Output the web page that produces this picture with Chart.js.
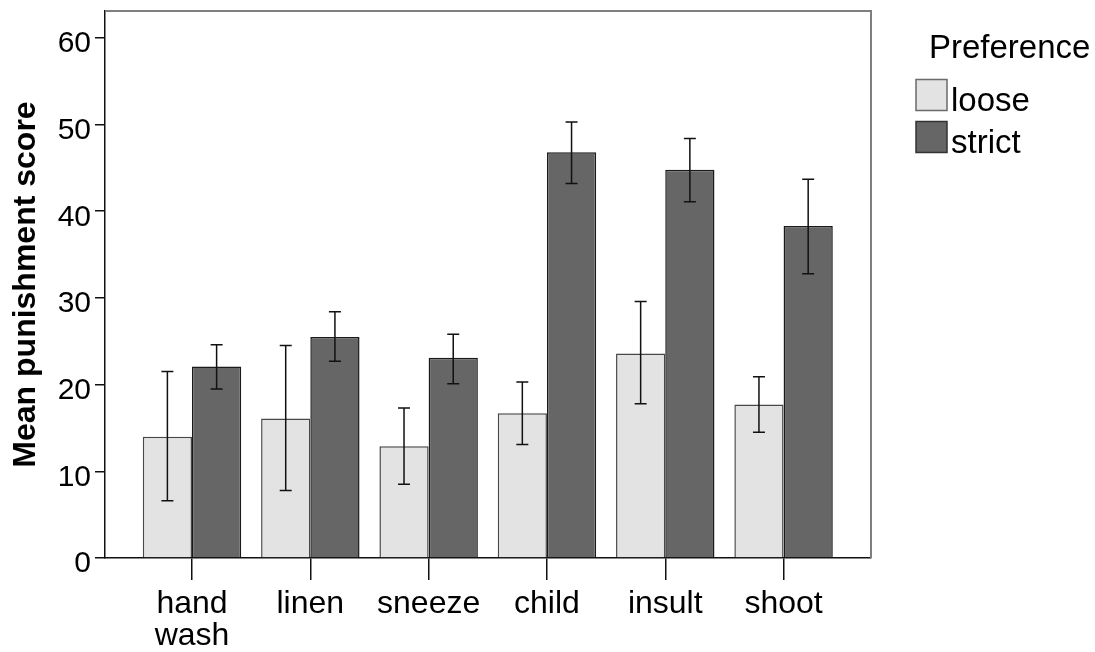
<!DOCTYPE html>
<html>
<head>
<meta charset="utf-8">
<title>Mean punishment score by preference</title>
<script src="https://cdn.jsdelivr.net/npm/chart.js@4.4.1/dist/chart.umd.min.js"></script>
<style>
  html, body { margin: 0; padding: 0; background: #ffffff; }
  #wrap { width: 1095px; height: 652px; }
</style>
</head>
<body>
<div id="wrap"><canvas id="punishChart" width="1095" height="652"></canvas></div>
<script>
// Categories and values
const categories = [['hand', 'wash'], 'linen', 'sneeze', 'child', 'insult', 'shoot'];
const seriesNames = ['loose', 'strict'];

const looseMean = [14.0, 16.1, 12.9, 16.7, 23.6, 17.7];
const looseHigh = [21.5, 24.5, 17.3, 20.3, 29.6, 20.9];
const looseLow  = [6.6, 7.8, 8.5, 13.1, 17.8, 14.5];

const strictMean = [22.1, 25.5, 23.1, 46.8, 44.8, 38.3];
const strictHigh = [24.6, 28.4, 25.8, 50.3, 48.4, 43.7];
const strictLow  = [19.5, 22.7, 20.1, 43.2, 41.1, 32.8];

const yTicks = [0, 10, 20, 30, 40, 50, 60];

// category positions on a linear axis (1..6)
const toPoints = (arr) => arr.map((v, i) => ({ x: i + 1, y: v }));

// Error bars drawn from the low/high arrays through the y scale
const errorBars = {
    id: 'errorBars',
    afterDatasetsDraw(chart) {
        const ctx = chart.ctx;
        const yScale = chart.scales.y;
        chart.data.datasets.forEach((ds, di) => {
            const meta = chart.getDatasetMeta(di);
            meta.data.forEach((bar, i) => {
                const top = yScale.getPixelForValue(ds.errHigh[i]);
                const bot = yScale.getPixelForValue(ds.errLow[i]);
                ctx.save();
                ctx.strokeStyle = '#111111';
                ctx.lineWidth = 1.5;
                ctx.beginPath();
                ctx.moveTo(bar.x, top);
                ctx.lineTo(bar.x, bot);
                ctx.moveTo(bar.x - 6, top);
                ctx.lineTo(bar.x + 6, top);
                ctx.moveTo(bar.x - 6, bot);
                ctx.lineTo(bar.x + 6, bot);
                ctx.stroke();
                ctx.restore();
            });
        });
    }
};

// grey frame on top and right of the plot
const plotFrame = {
    id: 'plotFrame',
    afterDraw(chart) {
        const { ctx, chartArea: a } = chart;
        ctx.save();
        ctx.strokeStyle = '#7f7f7f';
        ctx.lineWidth = 2;
        ctx.beginPath();
        ctx.moveTo(a.left, a.top);
        ctx.lineTo(a.right, a.top);
        ctx.lineTo(a.right, a.bottom);
        ctx.stroke();
        ctx.restore();
    }
};

// legend in the SPSS style: title, then small boxes close to the text
const sideLegend = {
    id: 'sideLegend',
    afterDraw(chart) {
        const ctx = chart.ctx;
        const x = 916, box = 31;
        ctx.save();
        ctx.fillStyle = '#000000';
        ctx.textBaseline = 'alphabetic';
        ctx.textAlign = 'left';
        ctx.font = '33px "Liberation Sans", Arial, sans-serif';
        ctx.fillText('Preference', 929, 58);
        chart.data.datasets.forEach((ds, i) => {
            const top = 79.5 + i * 42;
            ctx.fillStyle = ds.backgroundColor;
            ctx.fillRect(x, top, box, box);
            ctx.strokeStyle = i === 0 ? '#6a6a6a' : '#333333';
            ctx.lineWidth = 1.5;
            ctx.strokeRect(x, top, box, box);
            ctx.fillStyle = '#000000';
            ctx.fillText(ds.label, 951, top + 31.5);
        });
        ctx.restore();
    }
};

const ctx = document.getElementById('punishChart').getContext('2d');
const punishChart = new Chart(ctx, {
    type: 'bar',
    data: {
        datasets: [
            {
                label: seriesNames[0],
                data: toPoints(looseMean),
                errHigh: looseHigh,
                errLow: looseLow,
                backgroundColor: '#e3e3e3',
                borderColor: '#484848',
                borderWidth: 1.5,
                categoryPercentage: 0.832,
                barPercentage: 1
            },
            {
                label: seriesNames[1],
                data: toPoints(strictMean),
                errHigh: strictHigh,
                errLow: strictLow,
                backgroundColor: '#666666',
                borderColor: '#1a1a1a',
                borderWidth: 1.5,
                categoryPercentage: 0.832,
                barPercentage: 1
            }
        ]
    },
    options: {
        responsive: false,
        animation: false,
        layout: { padding: { top: 11, left: 0, right: 224, bottom: 0 } },
        plugins: {
            legend: { display: false },
            tooltip: { enabled: false }
        },
        scales: {
            x: {
                type: 'linear',
                offset: false,
                min: 0.2646,
                max: 6.739,
                afterBuildTicks: (axis) => {
                    axis.ticks = categories.map((c, i) => ({ value: i + 1 }));
                },
                afterFit: (axis) => {
                    axis.height = 94;
                    axis.paddingLeft = 0;
                    axis.paddingRight = 0;
                },
                ticks: {
                    autoSkip: false,
                    maxRotation: 0,
                    padding: 8,
                    color: '#000000',
                    font: { family: '"Liberation Sans", Arial, sans-serif', size: 32, lineHeight: 1 },
                    callback: (v) => categories[v - 1]
                },
                grid: {
                    offset: false,
                    drawOnChartArea: false,
                    tickLength: 22,
                    color: '#111111',
                    lineWidth: 1.5
                },
                border: { display: true, color: '#111111', width: 1.5 }
            },
            y: {
                min: 0,
                max: 63.1,
                afterBuildTicks: (axis) => {
                    axis.ticks = yTicks.map((v) => ({ value: v }));
                },
                afterFit: (axis) => {
                    axis.width = 105;
                    axis.paddingTop = 0;
                    axis.paddingBottom = 0;
                },
                ticks: {
                    padding: 4,
                    color: '#000000',
                    // blank first line nudges each number a little below its tick, as in the original
                    callback: (v) => ['', String(v)],
                    font: { family: '"Liberation Sans", Arial, sans-serif', size: 30, lineHeight: '12px' }
                },
                grid: {
                    drawOnChartArea: false,
                    tickLength: 10,
                    color: '#111111',
                    lineWidth: 1.5
                },
                border: { display: true, color: '#111111', width: 1.5 },
                title: {
                    display: true,
                    text: 'Mean punishment score',
                    color: '#000000',
                    padding: { top: 9, bottom: 0 },
                    font: { family: '"Liberation Sans", Arial, sans-serif', size: 32, weight: 'bold', lineHeight: 1.1 }
                }
            }
        }
    },
    plugins: [errorBars, plotFrame, sideLegend]
});
</script>
</body>
</html>
